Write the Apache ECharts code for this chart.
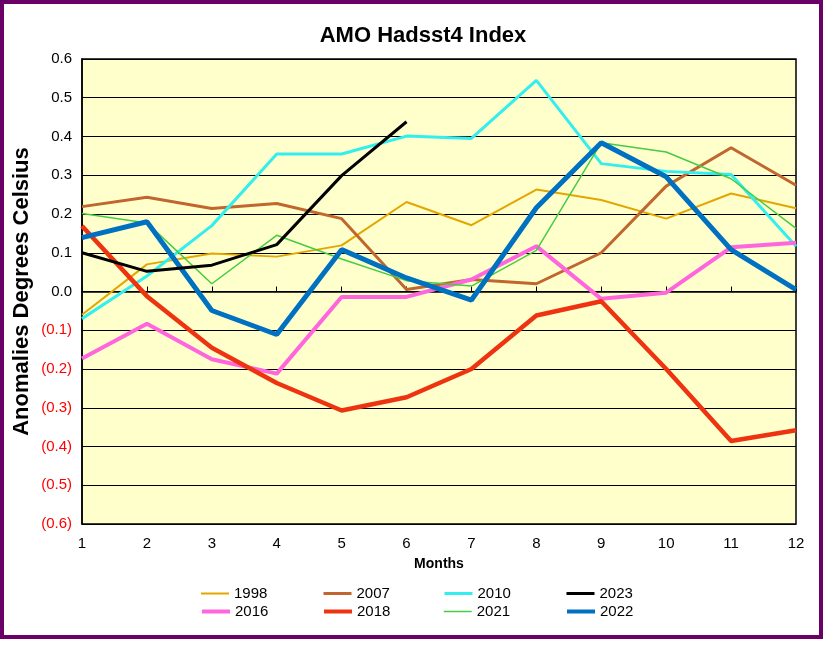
<!DOCTYPE html>
<html>
<head>
<meta charset="utf-8">
<script src="https://cdn.jsdelivr.net/npm/echarts@6/dist/echarts.min.js"></script>
<style>html,body{margin:0;padding:0;background:#fff;}#c{width:828px;height:645px;}</style>
</head>
<body>
<div id="c"></div>
<script>
var months = ['1','2','3','4','5','6','7','8','9','10','11','12'];
var yTicks = [-0.6,-0.5,-0.4,-0.3,-0.2,-0.1,0,0.1,0.2,0.3,0.4,0.5,0.6];
var legendRows = [['1998','2007','2010','2023'],['2016','2018','2021','2022']];
var s1998 = [-0.06,0.07,0.098,0.09,0.119,0.231,0.171,0.263,0.236,0.188,0.253,0.215];
var s2007 = [0.219,0.243,0.214,0.227,0.188,0.005,0.031,0.02,0.1,0.272,0.371,0.274];
var s2010 = [-0.07,0.04,0.17,0.355,0.355,0.401,0.395,0.545,0.33,0.31,0.302,0.117];
var s2023 = [0.1,0.052,0.068,0.121,0.299,0.438];
var s2016 = [-0.173,-0.083,-0.175,-0.212,-0.014,-0.014,0.031,0.117,-0.019,-0.003,0.114,0.126];
var s2018 = [0.169,-0.012,-0.145,-0.236,-0.307,-0.273,-0.2,-0.062,-0.025,-0.2,-0.386,-0.358];
var s2021 = [0.201,0.177,0.02,0.145,0.084,0.028,0.014,0.106,0.384,0.36,0.291,0.163];
var s2022 = [0.139,0.18,-0.049,-0.111,0.108,0.035,-0.022,0.216,0.384,0.296,0.108,0.005];

var styles = {
  '1998':{c:'#E3A600', w:2}, '2007':{c:'#C0662E', w:3}, '2010':{c:'#33EEEE', w:3},
  '2016':{c:'#FF66DD', w:4}, '2018':{c:'#EE3311', w:4.5}, '2021':{c:'#44CC44', w:1.5},
  '2022':{c:'#0070C0', w:5}, '2023':{c:'#000000', w:3}
};
function mk(name, data){
  var s = styles[name];
  return {name:name, type:'line', data:data, symbol:'none', animation:false,
    lineStyle:{color:s.c, width:s.w}, itemStyle:{color:s.c}};
}
var chart = echarts.init(document.getElementById('c'));
var F = 'Arial, Liberation Sans';
var legends = [];
var colLeft = [200, 322, 443, 565], rowTop = [586, 604];
legendRows.forEach(function(row, r){
  row.forEach(function(name, c){
    legends.push({data:[name], left:colLeft[c], top:rowTop[r], padding:0, itemWidth:28, itemHeight:12, itemGap:5,
      textStyle:{fontFamily:F, fontSize:15, color:'#000'}, itemStyle:{opacity:0},
      lineStyle:{width:Math.min(styles[name].w, 4), color:styles[name].c}});
  });
});
chart.setOption({
  animation:false,
  title:{text:'AMO Hadsst4 Index', left:418, top:20, textAlign:'center',
    textStyle:{fontFamily:F, fontSize:22, fontWeight:'bold', color:'#000'}},
  graphic:[{type:'rect', shape:{x:2, y:2, width:819, height:635}, z:100,
    style:{fill:'none', stroke:'#6B0066', lineWidth:4}}],
  legend:legends,
  grid:{left:82, right:32, top:59, bottom:121, show:true, backgroundColor:'#FFFFCC', borderColor:'#000', borderWidth:1.5},
  xAxis:{type:'category', data:months, boundaryGap:false,
    name:'Months', nameLocation:'middle', nameGap:33,
    nameTextStyle:{fontFamily:F, fontSize:14, fontWeight:'bold', color:'#000'},
    axisLine:{lineStyle:{color:'#000', width:1.5}},
    axisTick:{inside:true, length:5, lineStyle:{color:'#000'}},
    axisLabel:{fontFamily:F, fontSize:15, color:'#000', margin:12},
    splitLine:{show:false}},
  yAxis:{type:'value', min:yTicks[0], max:yTicks[yTicks.length-1], interval:0.1,
    name:'Anomalies Degrees Celsius', nameLocation:'middle', nameGap:49, nameRotate:90, nameMoveOverlap:false,
    nameTextStyle:{fontFamily:F, fontSize:22, fontWeight:'bold', color:'#000'},
    axisLine:{show:true, lineStyle:{color:'#000', width:1.5}},
    axisTick:{show:false},
    axisLabel:{fontFamily:F, fontSize:15, margin:10,
      formatter:function(v){ var a = Math.abs(v).toFixed(1); return v < -1e-9 ? '{n|(' + a + ')}' : '{p|' + a + '}'; },
      rich:{n:{color:'#FF0000', fontFamily:F, fontSize:15}, p:{color:'#000', fontFamily:F, fontSize:15}}},
    splitLine:{show:true, lineStyle:{color:'#000', width:1.2}}},
  series:[
    mk('1998', s1998), mk('2007', s2007), mk('2010', s2010), mk('2016', s2016),
    mk('2018', s2018), mk('2021', s2021), mk('2022', s2022), mk('2023', s2023)
  ]
});
</script>
</body>
</html>
